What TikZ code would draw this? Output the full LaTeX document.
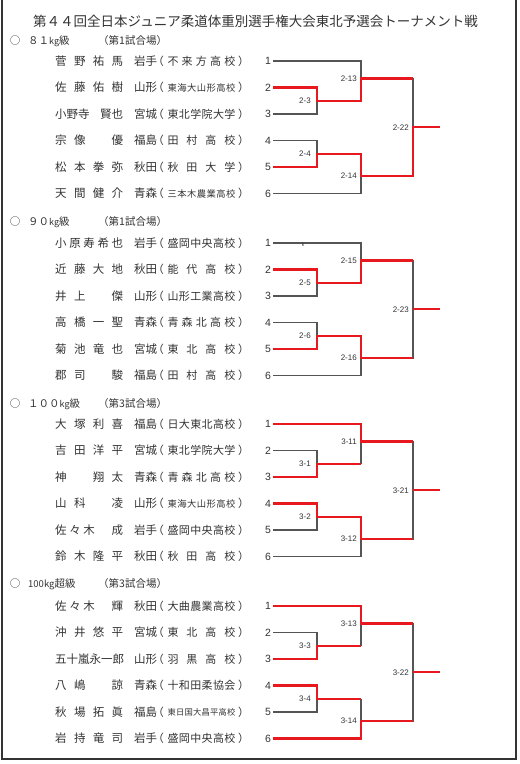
\documentclass[tikz,border=0pt]{standalone}
\usepackage{fontspec}
\setmainfont{Liberation Sans}
\newfontfamily\jp{Noto Sans CJK JP}
\usetikzlibrary{calc}
\definecolor{gl}{HTML}{555555}
\definecolor{rd}{HTML}{E8191E}
\definecolor{tx}{HTML}{333333}
\newcommand\fl{\hfill}
\newcommand\ph[1]{\hphantom{#1}}
\tikzset{
 nm/.style={anchor=west,inner sep=0,font=\jp\fontsize{11.5}{12}\selectfont,text=tx},
 pf/.style={anchor=west,inner sep=0,font=\jp\fontsize{11.5}{12}\selectfont,text=tx},
 lp/.style={anchor=east,inner sep=0,font=\jp\fontsize{11}{12}\selectfont,text=tx},
 rp/.style={anchor=west,inner sep=0,font=\jp\fontsize{11}{12}\selectfont,text=tx},
 sc/.style={inner sep=0,font=\jp\fontsize{11}{12}\selectfont,text=tx},
 num/.style={inner sep=0,font=\fontsize{10.5}{12}\selectfont,text=tx},
 ml/.style={anchor=east,inner sep=0,font=\fontsize{8}{9}\selectfont,text=tx},
 gline/.style={draw=gl,line width=1.3pt},
 rline/.style={draw=rd,line width=2.1pt},
 hd/.style={anchor=west,inner sep=0,font=\jp\fontsize{10.5}{12}\selectfont,text=tx},
 frame/.style={draw=black!80,line width=1.5pt},
}
\newcommand\entry[6]{%
 \node[nm] (nm#1) at (55,#2) {\makebox[68pt][s]{#3}};
 \node[pf] (pf#1) at (134,#2) {#4};
 \node[lp] (lp#1) at (164,#2) {（};
 \node[sc] (sc#1) at (201.5,#2) {\makebox[68pt][s]{#5}};
 \node[rp] (rp#1) at (238,#2) {）};
 \node[num] (no#1) at (268,#2) {#6};
 \coordinate (#1) at (273,#2);
}
\newcommand\bracket[6]{%
 \coordinate (#1m23) at ($(#12)!0.5!(#13)$);
 \coordinate (#123) at (X1 |- #1m23);
 \coordinate (#1m45) at ($(#14)!0.5!(#15)$);
 \coordinate (#145) at (X1 |- #1m45);
 \coordinate (#1m1) at ($(#11)!0.66!(#12)$);
 \coordinate (#1J1) at (X2 |- #1m1);
 \coordinate (#1m6) at ($(#16)!0.66!(#15)$);
 \coordinate (#1J6) at (X2 |- #1m6);
 \coordinate (#1mF) at ($(#1J1)!0.5!(#1J6)$);
 \coordinate (#1F) at (X3 |- #1mF);
 \coordinate (#1O) at (X4 |- #1mF);
 \draw[gline] (#12) -- (#12 -| #123) -- (#13 -| #123) -- (#13);
 \draw[gline] (#14) -- (#14 -| #145) -- (#15 -| #145) -- (#15);
 \draw[gline] (#123) -- (#123 -| #1J1);
 \draw[gline] (#145) -- (#145 -| #1J6);
 \draw[gline] (#11) -- (#11 -| #1J1) -- (#123 -| #1J1);
 \draw[gline] (#16) -- (#16 -| #1J6) -- (#145 -| #1J6);
 \draw[gline] (#1J1) -- (#1J1 -| #1F) -- (#1J6 -| #1F) -- (#1J6);
 \draw[gline] (#1F) -- (#1O);
 \node[ml] (#1L23) at ([xshift=-6pt]#123) {#2};
 \node[ml] (#1L45) at ([xshift=-6pt]#145) {#3};
 \node[ml] (#1L1) at ([xshift=-4pt]#1J1) {#4};
 \node[ml] (#1L6) at ([xshift=-4pt]#1J6) {#5};
 \node[ml] (#1LF) at ([xshift=-4pt]#1F) {#6};
}
\begin{document}
\begin{tikzpicture}[x=1pt,y=-1pt]
\useasboundingbox (0,0) rectangle (520,764);
\fill[white] (0,0) rectangle (520,764);
\coordinate (X1) at (317,0);
\coordinate (X2) at (361,0);
\coordinate (X3) at (413,0);
\coordinate (X4) at (440,0);
\coordinate (FL0) at (2,0);
\coordinate (FL1) at (2,759);
\coordinate (FR0) at (516,0);
\coordinate (FR1) at (516,759);
\draw[frame] (FL0) -- (FL1) -- (FR1) -- (FR0);
\node[inner sep=0,font=\jp\fontsize{13.5}{14}\selectfont,text=tx] (title) at (255.5,21) {第４４回全日本ジュニア柔道体重別選手権大会東北予選会トーナメント戦};
% headers
\node[hd,anchor=center] (cA) at (15,41) {○};
\node[hd] (hA) at (28,41) {８１{\fontsize{9}{9}\selectfont kg}級};
\node[hd] (gA) at (98,41) {（第1試合場）};
\node[hd,anchor=center] (cB) at (15,222) {○};
\node[hd] (hB) at (28,222) {９０{\fontsize{9}{9}\selectfont kg}級};
\node[hd] (gB) at (98,222) {（第1試合場）};
\node[hd,anchor=center] (cC) at (15,404) {○};
\node[hd] (hC) at (28,404) {１００{\fontsize{9}{9}\selectfont kg}級};
\node[hd] (gC) at (98,404) {（第3試合場）};
\node[hd,anchor=center] (cD) at (15,584) {○};
\node[hd] (hD) at (28,584) {{\fontsize{9.5}{9}\selectfont 100kg}超級};
\node[hd] (gD) at (98,584) {（第3試合場）};
% section A
\entry{A1}{61}{菅\fl 野\fl 祐\fl 馬}{岩手}{不\fl 来\fl 方\fl 高\fl 校}{1}
\entry{A2}{87.5}{佐\fl 藤\fl 佑\fl 樹}{山形}{\fontsize{9.3}{10}\selectfont 東\fl 海\fl 大\fl 山\fl 形\fl 高\fl 校}{2}
\entry{A3}{114}{小野寺\fl 賢也}{宮城}{東\fl 北\fl 学\fl 院\fl 大\fl 学}{3}
\entry{A4}{140.5}{宗\fl 像\fl\ph{優}\fl 優}{福島}{田\fl 村\fl 高\fl 校}{4}
\entry{A5}{167}{松\fl 本\fl 拳\fl 弥}{秋田}{秋\fl 田\fl 大\fl 学}{5}
\entry{A6}{193.5}{天\fl 間\fl 健\fl 介}{青森}{\fontsize{9.3}{10}\selectfont 三\fl 本\fl 木\fl 農\fl 業\fl 高\fl 校}{6}
\bracket{A}{2-3}{2-4}{2-13}{2-14}{2-22}
\draw[rline] (A2) -- (A2 -| A23) -- (A23) -- (A23 -| AJ1) -- (AJ1) -- (AJ1 -| AF);
\draw[rline] (A5) -- (A5 -| A45) -- (A45) -- (A45 -| AJ6) -- (AJ6) -- (AJ6 -| AF) -- (AF) -- (AO);
% section B
\entry{B1}{243}{小\fl 原\fl 寿\fl 希\fl 也}{岩手}{盛\fl 岡\fl 中\fl 央\fl 高\fl 校}{1}
\entry{B2}{269.5}{近\fl 藤\fl 大\fl 地}{秋田}{能\fl 代\fl 高\fl 校}{2}
\entry{B3}{296}{井\fl 上\fl\ph{傑}\fl 傑}{山形}{山\fl 形\fl 工\fl 業\fl 高\fl 校}{3}
\entry{B4}{322.5}{高\fl 橋\fl 一\fl 聖}{青森}{青\fl 森\fl 北\fl 高\fl 校}{4}
\entry{B5}{349}{菊\fl 池\fl 竜\fl 也}{宮城}{東\fl 北\fl 高\fl 校}{5}
\entry{B6}{375.5}{郡\fl 司\fl\ph{駿}\fl 駿}{福島}{田\fl 村\fl 高\fl 校}{6}
\bracket{B}{2-5}{2-6}{2-15}{2-16}{2-23}
\node[inner sep=0,font=\fontsize{5}{5}\selectfont,text=tx] (kmark) at (303,245) {k};
\draw[rline] (B2) -- (B2 -| B23) -- (B23) -- (B23 -| BJ1) -- (BJ1) -- (BJ1 -| BF);
\draw[rline] (B5) -- (B5 -| B45) -- (B45) -- (B45 -| BJ6) -- (BJ6) -- (BJ6 -| BF);
\draw[rline] (BF) -- (BO);
% section C
\entry{C1}{424}{大\fl 塚\fl 利\fl 喜}{福島}{日\fl 大\fl 東\fl 北\fl 高\fl 校}{1}
\entry{C2}{450.5}{吉\fl 田\fl 洋\fl 平}{宮城}{東\fl 北\fl 学\fl 院\fl 大\fl 学}{2}
\entry{C3}{477}{神\fl\ph{翔}\fl 翔\fl 太}{青森}{青\fl 森\fl 北\fl 高\fl 校}{3}
\entry{C4}{503.5}{山\fl 科\fl\ph{凌}\fl 凌}{山形}{\fontsize{9.3}{10}\selectfont 東\fl 海\fl 大\fl 山\fl 形\fl 高\fl 校}{4}
\entry{C5}{530}{佐\fl 々\fl 木\fl\ph{成}\fl 成}{岩手}{盛\fl 岡\fl 中\fl 央\fl 高\fl 校}{5}
\entry{C6}{556.5}{鈴\fl 木\fl 隆\fl 平}{秋田}{秋\fl 田\fl 高\fl 校}{6}
\bracket{C}{3-1}{3-2}{3-11}{3-12}{3-21}
\draw[rline] (C1) -- (C1 -| CJ1) -- (CJ1) -- (CJ1 -| CF);
\draw[rline] (C3) -- (C3 -| C23) -- (C23) -- (C23 -| CJ1);
\draw[rline] (C4) -- (C4 -| C45) -- (C45) -- (C45 -| CJ6) -- (CJ6) -- (CJ6 -| CF);
\draw[rline] (CF) -- (CO);
% section D
\entry{D1}{606}{佐\fl 々\fl 木\fl\ph{輝}\fl 輝}{秋田}{大\fl 曲\fl 農\fl 業\fl 高\fl 校}{1}
\entry{D2}{632.5}{沖\fl 井\fl 悠\fl 平}{宮城}{東\fl 北\fl 高\fl 校}{2}
\entry{D3}{659}{五\fl 十\fl 嵐\fl 永\fl 一\fl 郎}{山形}{羽\fl 黒\fl 高\fl 校}{3}
\entry{D4}{685.5}{八\fl 嶋\fl\ph{諒}\fl 諒}{青森}{十\fl 和\fl 田\fl 柔\fl 協\fl 会}{4}
\entry{D5}{712}{秋\fl 場\fl 拓\fl 眞}{福島}{\fontsize{8.3}{9}\selectfont 東\fl 日\fl 国\fl 大\fl 昌\fl 平\fl 高\fl 校}{5}
\entry{D6}{738.5}{岩\fl 持\fl 竜\fl 司}{岩手}{盛\fl 岡\fl 中\fl 央\fl 高\fl 校}{6}
\bracket{D}{3-3}{3-4}{3-13}{3-14}{3-22}
\draw[rline] (D1) -- (D1 -| DJ1) -- (DJ1) -- (DJ1 -| DF);
\draw[rline] (D3) -- (D3 -| D23) -- (D23) -- (D23 -| DJ1);
\draw[rline] (D4) -- (D4 -| D45) -- (D45) -- (D45 -| DJ6);
\draw[rline] (D6) -- (D6 -| DJ6) -- (DJ6) -- (DJ6 -| DF);
\draw[rline] (DF) -- (DO);
\end{tikzpicture}
\end{document}
